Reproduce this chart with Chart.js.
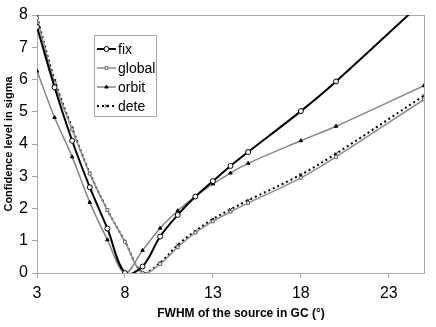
<!DOCTYPE html>
<html>
<head>
<meta charset="utf-8">
<script src="https://cdn.jsdelivr.net/npm/chart.js@4/dist/chart.umd.min.js"></script>
<style>
  html, body { margin: 0; padding: 0; background: #fff; }
  #wrap { width: 436px; height: 327px; }
</style>
</head>
<body>
<div id="wrap"><canvas id="myChart" width="436" height="327"></canvas></div>
<script>
  // FWHM values (degrees) and significance per model
  const fwhm = [3, 4, 5, 6, 7, 8, 9, 10, 11, 12, 13, 14, 15, 18, 20, 25];
  const fix = [7.63, 5.76, 4.1, 2.66, 1.38, 0.0, 0.2, 1.13, 1.8, 2.37, 2.85, 3.32, 3.75, 5.02, 5.94, 8.45];
  const globalSig = [7.9, 5.9, 4.45, 3.08, 1.95, 0.97, 0.0, 0.28, 0.8, 1.25, 1.6, 1.9, 2.17, 2.95, 3.6, 5.38];
  const orbit = [6.26, 4.82, 3.6, 2.19, 1.03, 0.0, 0.7, 1.39, 1.93, 2.37, 2.76, 3.1, 3.4, 4.1, 4.55, 5.81];
  const dete = [7.95, 5.98, 4.49, 3.1, 1.96, 0.98, 0.02, 0.32, 0.87, 1.3, 1.67, 1.97, 2.25, 3.05, 3.7, 5.5];
  const xTicks = [3, 8, 13, 18, 23];
  const xTitle = 'FWHM of the source in GC (°)';
  const yTitle = 'Confidence level in sigma';

  const FONT = "'Liberation Sans', Arial, sans-serif";
  const AXIS_GREY = '#a6a6a6';

  function punkte(ys) {
    return fwhm.map((x, i) => ({ x: x, y: ys[i] }));
  }

  const datos = {
    datasets: [
      {
        label: 'fix', data: punkte(fix),
        borderColor: '#000', borderWidth: 2,
        pointStyle: 'circle', pointRadius: 2.5, pointBorderWidth: 1,
        pointBackgroundColor: '#fff', pointBorderColor: '#000'
      },
      {
        label: 'global', data: punkte(globalSig),
        borderColor: '#8c8c8c', borderWidth: 1.5,
        pointStyle: 'rect', pointRadius: 2, pointBorderWidth: 1,
        pointBackgroundColor: '#fff', pointBorderColor: '#666'
      },
      {
        label: 'orbit', data: punkte(orbit),
        borderColor: '#858585', borderWidth: 1.5,
        pointStyle: 'triangle', pointRadius: 2, pointBorderWidth: 1,
        pointBackgroundColor: '#000', pointBorderColor: '#000'
      },
      {
        label: 'dete', data: punkte(dete),
        borderColor: '#000', borderWidth: 2, borderDash: [2, 3],
        pointStyle: 'crossRot', pointRadius: 2, pointBorderWidth: 1,
        pointBackgroundColor: '#000', pointBorderColor: '#000'
      }
    ]
  };

  // plot frame + legend box + x title drawn by hand
  const extras = {
    id: 'extras',
    beforeDatasetsDraw(chart) {
      const a = chart.chartArea, c = chart.ctx;
      c.save();
      c.strokeStyle = AXIS_GREY;
      c.lineWidth = 1;
      c.strokeRect(Math.round(a.left) + 0.5, Math.round(a.top) + 0.5,
                   Math.round(a.right - a.left), Math.round(a.bottom - a.top));
      c.restore();
    },
    afterDraw(chart) {
      const c = chart.ctx;
      c.save();
      // legend
      const bx = 94, by = 35, bw = 62, bh = 81;
      c.fillStyle = '#fff';
      c.fillRect(bx, by, bw, bh);
      c.strokeStyle = AXIS_GREY;
      c.lineWidth = 1;
      c.strokeRect(bx + 0.5, by + 0.5, bw, bh);
      chart.data.datasets.forEach((ds, i) => {
        const y = 49 + i * 19;
        c.strokeStyle = ds.borderColor;
        c.lineWidth = ds.borderWidth;
        c.setLineDash(ds.borderDash || []);
        c.beginPath();
        c.moveTo(97, y);
        c.lineTo(116, y);
        c.stroke();
        c.setLineDash([]);
        c.fillStyle = ds.pointBackgroundColor;
        c.strokeStyle = ds.pointBorderColor;
        c.lineWidth = ds.pointBorderWidth;
        Chart.helpers.drawPoint(c, {
          pointStyle: ds.pointStyle, radius: ds.pointRadius,
          borderWidth: ds.pointBorderWidth, rotation: 0
        }, 106.5, y);
        c.fillStyle = '#000';
        c.font = '14px ' + FONT;
        c.textBaseline = 'middle';
        c.textAlign = 'left';
        c.fillText(ds.label, 118, y + 1);
      });
      // x axis title
      c.font = 'bold 12px ' + FONT;
      c.fillStyle = '#000';
      c.textAlign = 'center';
      c.textBaseline = 'middle';
      c.fillText(xTitle, 241, 314);
      c.restore();
    }
  };

  const opciones = {
    responsive: false,
    animation: false,
    layout: { padding: { top: 15, right: 12, left: 0, bottom: 0 } },
    datasets: { line: { tension: 0.35, capBezierPoints: false, fill: false } },
    plugins: { legend: { display: false }, tooltip: { enabled: false } },
    scales: {
      x: {
        type: 'linear', min: 3, max: 25,
        afterBuildTicks: s => { s.ticks = xTicks.map(v => ({ value: v })); },
        afterFit: s => { s.height = 54; },
        grid: { drawOnChartArea: false, drawTicks: true, tickLength: 5, color: AXIS_GREY },
        border: { color: AXIS_GREY },
        ticks: { font: { family: FONT, size: 16 }, color: '#000', padding: 6, maxRotation: 0 }
      },
      y: {
        min: 0, max: 8,
        afterFit: s => { s.width = 37; },
        grid: { drawOnChartArea: false, drawTicks: true, tickLength: 5, color: AXIS_GREY },
        border: { color: AXIS_GREY },
        ticks: { stepSize: 1, font: { family: FONT, size: 16 }, color: '#000', padding: 4 },
        title: {
          display: true, text: yTitle, color: '#000',
          font: { family: FONT, size: 11, weight: 'bold' },
          padding: { top: 2, bottom: 0 }
        }
      }
    }
  };

  const ctx = document.getElementById('myChart').getContext('2d');
  const myChart = new Chart(ctx, {
    type: 'line',
    data: datos,
    options: opciones,
    plugins: [extras]
  });
</script>
</body>
</html>
